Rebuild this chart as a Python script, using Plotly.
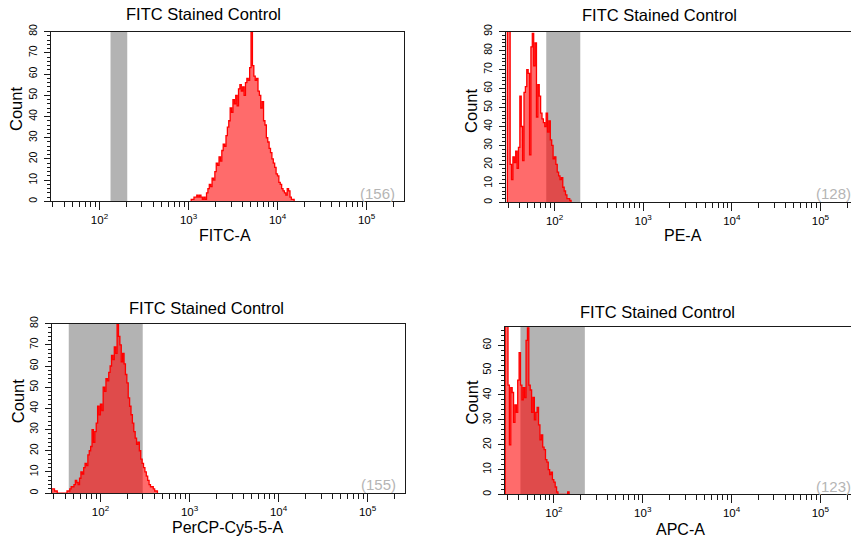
import numpy as np
import plotly.graph_objects as go

W, H = 851, 541

# Histogram channel grid (log display, 64 channels per decade)
CH_LOG0 = 1.452
CH_PER_DECADE = 64

plot_title = "FITC Stained Control"
param_names = ["FITC-A", "PE-A", "PerCP-Cy5-5-A", "APC-A"]
event_counts = [156, 128, 155, 123]

# Counts per channel, starting at the given first channel
fitc_first_ch = 101
fitc_counts = [1, 1, 2, 2, 3, 2, 3, 2, 1, 2,
               1, 4, 6, 8, 7, 11, 10, 14, 18, 17,
               21, 19, 24, 27, 26, 31, 35, 38, 44, 42,
               48, 46, 50, 45, 53, 55, 52, 54, 50, 56,
               58, 57, 63, 80, 64, 59, 57, 58, 52, 50,
               44, 47, 38, 36, 30, 28, 25, 23, 20, 18,
               16, 13, 12, 9, 8, 6, 5, 4, 3, 6,
               5, 2, 1, 1]

pe_first_ch = 1
pe_counts = [95, 95, 20, 12, 24, 21, 27, 18, 29, 56,
             40, 22, 58, 61, 70, 68, 25, 82, 89, 72,
             84, 45, 62, 56, 47, 44, 42, 40, 47, 37,
             43, 33, 30, 23, 24, 20, 16, 14, 12, 13,
             8, 6, 4, 2, 2, 1]

percp_first_ch = 0
percp_counts = [2, 2, 1, 1, 0, 0, 0, 0, 0, 0,
                0, 1, 1, 2, 3, 3, 4, 6, 5, 4,
                7, 10, 9, 12, 14, 13, 18, 20, 22, 30,
                24, 29, 33, 41, 37, 42, 39, 50, 48, 54,
                53, 57, 60, 65, 63, 69, 66, 80, 74, 70,
                62, 66, 61, 56, 52, 45, 41, 37, 33, 29,
                26, 23, 24, 20, 16, 14, 12, 10, 8, 6,
                4, 3, 3, 2, 1, 1]

apc_first_ch = 0
apc_counts = [100, 100, 44, 20, 43, 41, 29, 36, 33, 46,
              57, 44, 38, 43, 39, 62, 67, 44, 42, 33,
              39, 30, 33, 35, 28, 22, 24, 19, 18, 14,
              13, 10, 8, 9, 6, 5, 3, 1, 0, 0,
              0, 0, 0, 0, 0, 1]

# Interval gates (data units)
gate_lo = [133, 80.6, 44, 42]
gate_hi = [205, 195, 298, 223]

# Axis scales
y_max = [80, 90, 80, 67.5]
x_range_log = [[1.452, 5.42], [1.452, 5.345], [1.452, 5.42], [1.446, 5.345]]
x_tick_vals = [1e2, 1e3, 1e4, 1e5]
x_tick_text = ["10<sup>2</sup>", "10<sup>3</sup>", "10<sup>4</sup>", "10<sup>5</sup>"]
x_minor_vals = ([k * 10 for k in range(2, 10)] + [k * 100 for k in range(2, 10)] +
                [k * 1000 for k in range(2, 10)] + [k * 10000 for k in range(2, 10)] +
                [200000])

series = [(fitc_first_ch, fitc_counts), (pe_first_ch, pe_counts),
          (percp_first_ch, percp_counts), (apc_first_ch, apc_counts)]

# Panel frames in pixels: left, right, top, bottom
frames = [(50.7, 404.0, 24.0, 196.7),
          (506.0, 851.0, 24.0, 197.7),
          (51.7, 405.0, 321.0, 493.3),
          (504.7, 851.0, 324.0, 494.7)]
title_pos = [(203, 6.5), (659, 7), (206, 305), (657.5, 309)]
count_lbl_pos = [(16.7, 103), (471.7, 105), (18.3, 399.5), (471.7, 401.5)]
xtitle_pos = [(225, 231), (682.5, 231), (227.5, 528), (680, 530.5)]
events_pos = [(397.3, 188.3), (853, 188.8), (398.3, 484.2), (853, 486.5)]

FONT = "Liberation Sans, Arial, sans-serif"
RED = "#ff0000"
RED_FILL = "rgba(255,0,0,0.58)"
GATE = "#b3b3b3"


def px(x):
    return x / W


def py(y):
    return 1 - y / H


def step_outline(first_ch, counts):
    n = len(counts)
    edges = 10 ** (CH_LOG0 + (first_ch + np.arange(n + 1)) / CH_PER_DECADE)
    xs = [edges[0]] + list(edges[:-1]) + [edges[-1], edges[-1]]
    ys = [0] + list(counts) + [counts[-1], 0]
    return xs, ys


fig = go.Figure()
annotations = []

for i in range(4):
    ax = "" if i == 0 else str(i + 1)
    xref, yref = "x" + ax, "y" + ax
    l, r, t, b = frames[i]

    # gate band across the full height
    fig.add_trace(go.Scatter(
        x=[gate_lo[i], gate_lo[i], gate_hi[i], gate_hi[i], gate_lo[i]],
        y=[0, y_max[i], y_max[i], 0, 0],
        fill="toself", fillcolor=GATE, mode="lines",
        line=dict(width=0, color=GATE),
        xaxis=xref, yaxis=yref, hoverinfo="skip", showlegend=False))

    xs, ys = step_outline(*series[i])
    fig.add_trace(go.Scatter(
        x=xs, y=ys, mode="lines", line=dict(color=RED, width=1.3, shape="hv"),
        fill="tozeroy", fillcolor=RED_FILL,
        xaxis=xref, yaxis=yref, hoverinfo="skip", showlegend=False))

    right_frame = i in (0, 2)
    fig.update_layout(**{
        "xaxis" + ax: dict(
            type="log", domain=[px(l), px(r)], anchor=yref,
            range=x_range_log[i], showgrid=False, zeroline=False,
            showline=True, linecolor="#1a1a1a", linewidth=1, mirror=True,
            ticks="outside", ticklen=8, tickwidth=1, tickcolor="#1a1a1a",
            tickmode="array", tickvals=x_tick_vals, ticktext=x_tick_text,
            tickfont=dict(family=FONT, size=11.5, color="#000"),
            ticklabelstandoff=0,
            minor=dict(ticks="outside", ticklen=5, tickwidth=1,
                       tickcolor="#1a1a1a", tickmode="array",
                       tickvals=x_minor_vals, showgrid=False),
        ),
        "yaxis" + ax: dict(
            domain=[py(b), py(t)], anchor=xref,
            range=[0, y_max[i]], showgrid=False, zeroline=False,
            showline=True, linecolor="#1a1a1a", linewidth=1,
            mirror=right_frame,
            ticks="outside", ticklen=6, tickwidth=1, tickcolor="#1a1a1a",
            tick0=0, dtick=10, tickangle=-90,
            tickfont=dict(family=FONT, size=10.5, color="#000"),
            ticklabelstandoff=3,
            minor=dict(ticks="outside", ticklen=3, tickwidth=1,
                       tickcolor="#1a1a1a", dtick=2, tick0=0, showgrid=False),
        ),
    })

    annotations.append(dict(
        text=plot_title, x=px(title_pos[i][0]), y=py(title_pos[i][1]),
        xref="paper", yref="paper", xanchor="center", yanchor="middle",
        showarrow=False, font=dict(family=FONT, size=16.5, color="#000")))
    annotations.append(dict(
        text="Count", x=px(count_lbl_pos[i][0]), y=py(count_lbl_pos[i][1]),
        xref="paper", yref="paper", xanchor="center", yanchor="middle",
        textangle=-90, showarrow=False,
        font=dict(family=FONT, size=16.5, color="#000")))
    annotations.append(dict(
        text=param_names[i], x=px(xtitle_pos[i][0]), y=py(xtitle_pos[i][1]),
        xref="paper", yref="paper", xanchor="center", yanchor="middle",
        showarrow=False, font=dict(family=FONT, size=16, color="#000")))
    annotations.append(dict(
        text="(%d)" % event_counts[i], x=px(events_pos[i][0]),
        y=py(events_pos[i][1]), xref="paper", yref="paper",
        xanchor="right", yanchor="middle", showarrow=False,
        font=dict(family=FONT, size=15, color="#b5b5b5")))

fig.update_layout(
    width=W, height=H, margin=dict(l=0, r=0, t=0, b=0),
    paper_bgcolor="white", plot_bgcolor="white",
    annotations=annotations, showlegend=False,
)

fig.write_html("out.html")
